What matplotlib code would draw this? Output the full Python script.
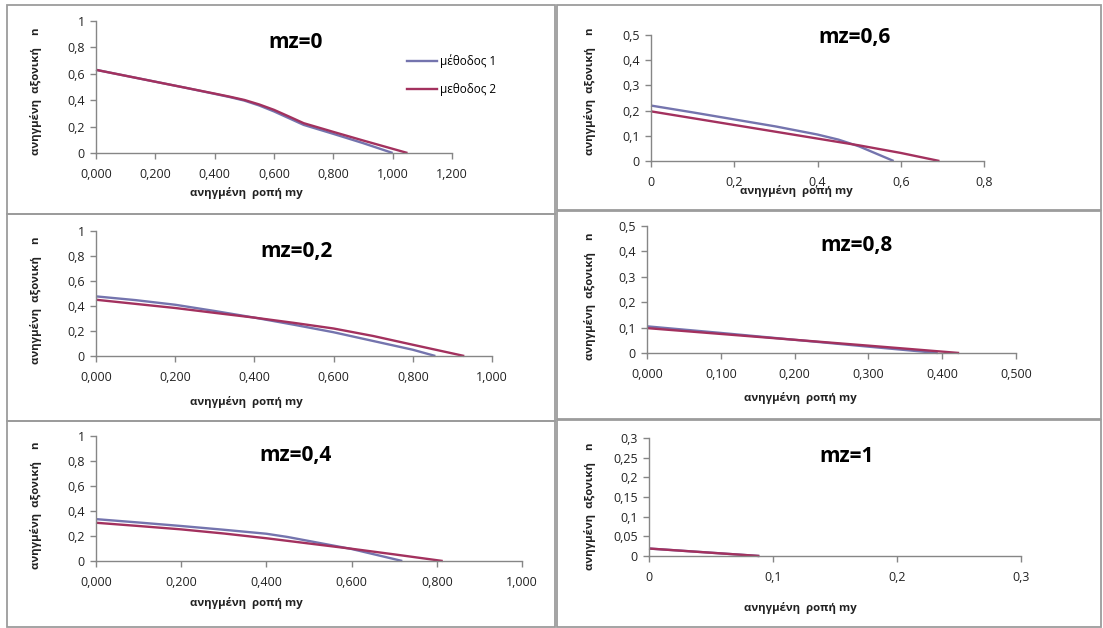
import matplotlib
matplotlib.use("Agg")
import matplotlib.pyplot as plt
from matplotlib.patches import Rectangle
from matplotlib.lines import Line2D

plt.rcParams['font.family'] = ['Open Sans', 'DejaVu Sans']

W, H = 1103, 628

# mz = 0
mz0_m1_x = [0, 0.1, 0.2, 0.3, 0.4, 0.45, 0.5, 0.55, 0.6, 0.65, 0.7, 0.8, 0.9, 1.0]
mz0_m1_y = [0.63, 0.585, 0.54, 0.495, 0.448, 0.424, 0.397, 0.36, 0.315, 0.264, 0.213, 0.145, 0.075, 0]
mz0_m2_x = [0, 0.1, 0.2, 0.3, 0.4, 0.45, 0.5, 0.55, 0.6, 0.65, 0.7, 0.8, 0.9, 1.05]
mz0_m2_y = [0.63, 0.585, 0.54, 0.495, 0.45, 0.427, 0.402, 0.368, 0.327, 0.277, 0.226, 0.16, 0.095, 0]

# mz = 0.2
mz02_m1_x = [0, 0.1, 0.2, 0.3, 0.4, 0.5, 0.6, 0.7, 0.8, 0.857]
mz02_m1_y = [0.477, 0.447, 0.41, 0.36, 0.307, 0.25, 0.19, 0.12, 0.05, 0]
mz02_m2_x = [0, 0.1, 0.2, 0.3, 0.4, 0.5, 0.6, 0.7, 0.8, 0.93]
mz02_m2_y = [0.45, 0.417, 0.384, 0.345, 0.307, 0.265, 0.22, 0.16, 0.09, 0]

# mz = 0.4
mz04_m1_x = [0, 0.1, 0.2, 0.3, 0.4, 0.45, 0.5, 0.55, 0.6, 0.719]
mz04_m1_y = [0.335, 0.308, 0.28, 0.25, 0.218, 0.192, 0.16, 0.128, 0.096, 0]
mz04_m2_x = [0, 0.1, 0.2, 0.3, 0.4, 0.5, 0.6, 0.7, 0.814]
mz04_m2_y = [0.306, 0.28, 0.253, 0.22, 0.182, 0.14, 0.098, 0.053, 0]

# mz = 0.6
mz06_m1_x = [0, 0.1, 0.2, 0.3, 0.4, 0.45, 0.5, 0.583]
mz06_m1_y = [0.22, 0.193, 0.165, 0.137, 0.105, 0.085, 0.058, 0]
mz06_m2_x = [0, 0.1, 0.2, 0.3, 0.4, 0.5, 0.6, 0.693]
mz06_m2_y = [0.197, 0.17, 0.143, 0.116, 0.089, 0.062, 0.032, 0]

# mz = 0.8
mz08_m1_x = [0, 0.1, 0.2, 0.3, 0.394]
mz08_m1_y = [0.105, 0.079, 0.052, 0.025, 0]
mz08_m2_x = [0, 0.1, 0.2, 0.3, 0.423]
mz08_m2_y = [0.098, 0.075, 0.052, 0.029, 0]

# mz = 1
mz1_m1_x = [0, 0.089]
mz1_m1_y = [0.019, 0]
mz1_m2_x = [0, 0.089]
mz1_m2_y = [0.019, 0]

titles = ["mz=0", "mz=0,2", "mz=0,4", "mz=0,6", "mz=0,8", "mz=1"]

xt_12 = [0, 0.2, 0.4, 0.6, 0.8, 1.0, 1.2]
xl_12 = ["0,000", "0,200", "0,400", "0,600", "0,800", "1,000", "1,200"]
xt_10 = [0, 0.2, 0.4, 0.6, 0.8, 1.0]
xl_10 = ["0,000", "0,200", "0,400", "0,600", "0,800", "1,000"]
xt_08 = [0, 0.2, 0.4, 0.6, 0.8]
xl_08 = ["0", "0,2", "0,4", "0,6", "0,8"]
xt_05 = [0, 0.1, 0.2, 0.3, 0.4, 0.5]
xl_05 = ["0,000", "0,100", "0,200", "0,300", "0,400", "0,500"]
xt_03 = [0, 0.1, 0.2, 0.3]
xl_03 = ["0", "0,1", "0,2", "0,3"]

yt_1 = [0, 0.2, 0.4, 0.6, 0.8, 1.0]
yl_1 = ["0", "0,2", "0,4", "0,6", "0,8", "1"]
yt_05 = [0, 0.1, 0.2, 0.3, 0.4, 0.5]
yl_05 = ["0", "0,1", "0,2", "0,3", "0,4", "0,5"]
yt_03 = [0, 0.05, 0.1, 0.15, 0.2, 0.25, 0.3]
yl_03 = ["0", "0,05", "0,1", "0,15", "0,2", "0,25", "0,3"]

series_names = ["μέθοδος 1", "μεθοδος 2"]
xlabel = "ανηγμένη  ροπή my"
ylabel = "ανηγμένη  αξονική    n"

c1 = '#7474AE'
c2 = '#A3315E'
grey = '#868686'

fig = plt.figure(figsize=(W / 100, H / 100), dpi=100)


def fx(x):
    return x / W


def fy(y):
    return 1 - y / H


# panel frames (pixel boxes)
frames = [(7, 5, 555, 214), (557, 5, 1101, 210), (7, 214, 555, 421),
          (557, 211, 1101, 419), (7, 421, 555, 627), (557, 420, 1101, 627)]
for x0, y0, x1, y1 in frames:
    fig.add_artist(Rectangle((fx(x0), fy(y1)), fx(x1 - x0), (y1 - y0) / H,
                             transform=fig.transFigure, fill=False,
                             ec='#9c9c9c', lw=1.3))

panels = [
    # data, title, axes box px (left, top, right, bottom), xticks, yticks, title pos, xlabel pos, ylabel pos
    ((mz0_m1_x, mz0_m1_y, mz0_m2_x, mz0_m2_y), titles[0], (96, 21, 452, 153),
     (xt_12, xl_12), (yt_1, yl_1), (296, 42), (246, 193), (36, 91)),
    ((mz02_m1_x, mz02_m1_y, mz02_m2_x, mz02_m2_y), titles[1], (96, 231, 492, 356),
     (xt_10, xl_10), (yt_1, yl_1), (296, 252), (246, 402), (36, 300)),
    ((mz04_m1_x, mz04_m1_y, mz04_m2_x, mz04_m2_y), titles[2], (96, 436, 522, 561),
     (xt_10, xl_10), (yt_1, yl_1), (296, 455), (246, 603), (36, 505)),
    ((mz06_m1_x, mz06_m1_y, mz06_m2_x, mz06_m2_y), titles[3], (651, 35, 984, 161),
     (xt_08, xl_08), (yt_05, yl_05), (854, 38), (796, 191), (590, 91)),
    ((mz08_m1_x, mz08_m1_y, mz08_m2_x, mz08_m2_y), titles[4], (647, 226, 1016, 353),
     (xt_05, xl_05), (yt_05, yl_05), (856, 245), (800, 398), (590, 296)),
    ((mz1_m1_x, mz1_m1_y, mz1_m2_x, mz1_m2_y), titles[5], (649, 438, 1021, 556),
     (xt_03, xl_03), (yt_03, yl_03), (847, 457), (800, 608), (590, 506)),
]

for i, (d, title, (l, t, r, b), (xt, xl), (yt, yl), tpos, xlpos, ylpos) in enumerate(panels):
    ax = fig.add_axes([fx(l), fy(b), fx(r - l), (b - t) / H])
    ax.plot(d[0], d[1], color=c1, lw=1.7, clip_on=False, solid_capstyle='butt')
    ax.plot(d[2], d[3], color=c2, lw=1.7, clip_on=False, solid_capstyle='butt')
    ax.set_xlim(xt[0], xt[-1])
    ax.set_ylim(yt[0], yt[-1])
    ax.set_xticks(xt)
    ax.set_xticklabels(xl)
    ax.set_yticks(yt)
    ax.set_yticklabels(yl)
    for s in ['top', 'right']:
        ax.spines[s].set_visible(False)
    for s in ['left', 'bottom']:
        ax.spines[s].set_color(grey)
        ax.spines[s].set_linewidth(1.0)
    ax.tick_params(axis='both', colors=grey, length=4, width=1.0,
                   labelcolor='#222222', labelsize=9, pad=4)
    ax.tick_params(axis='x', pad=7)
    ax.patch.set_alpha(0)
    fig.text(fx(tpos[0]), fy(tpos[1]), title, ha='center', va='center',
             fontsize=15, fontweight='bold', color='black')
    fig.text(fx(xlpos[0]), fy(xlpos[1]), xlabel, ha='center', va='center',
             fontsize=8.2, fontweight='bold', color='#222222')
    fig.text(fx(ylpos[0]), fy(ylpos[1]), ylabel, ha='center', va='center',
             rotation=90, fontsize=8.2, fontweight='bold', color='#222222')

# legend in the first panel
handles = [Line2D([], [], color=c1, lw=1.7), Line2D([], [], color=c2, lw=1.7)]
fig.legend(handles, series_names, loc='center left',
           bbox_to_anchor=(fx(396), fy(75)), frameon=False, fontsize=8.5,
           handlelength=2.6, handletextpad=0.2, labelspacing=1.3)

fig.savefig("out.png", dpi=100)
